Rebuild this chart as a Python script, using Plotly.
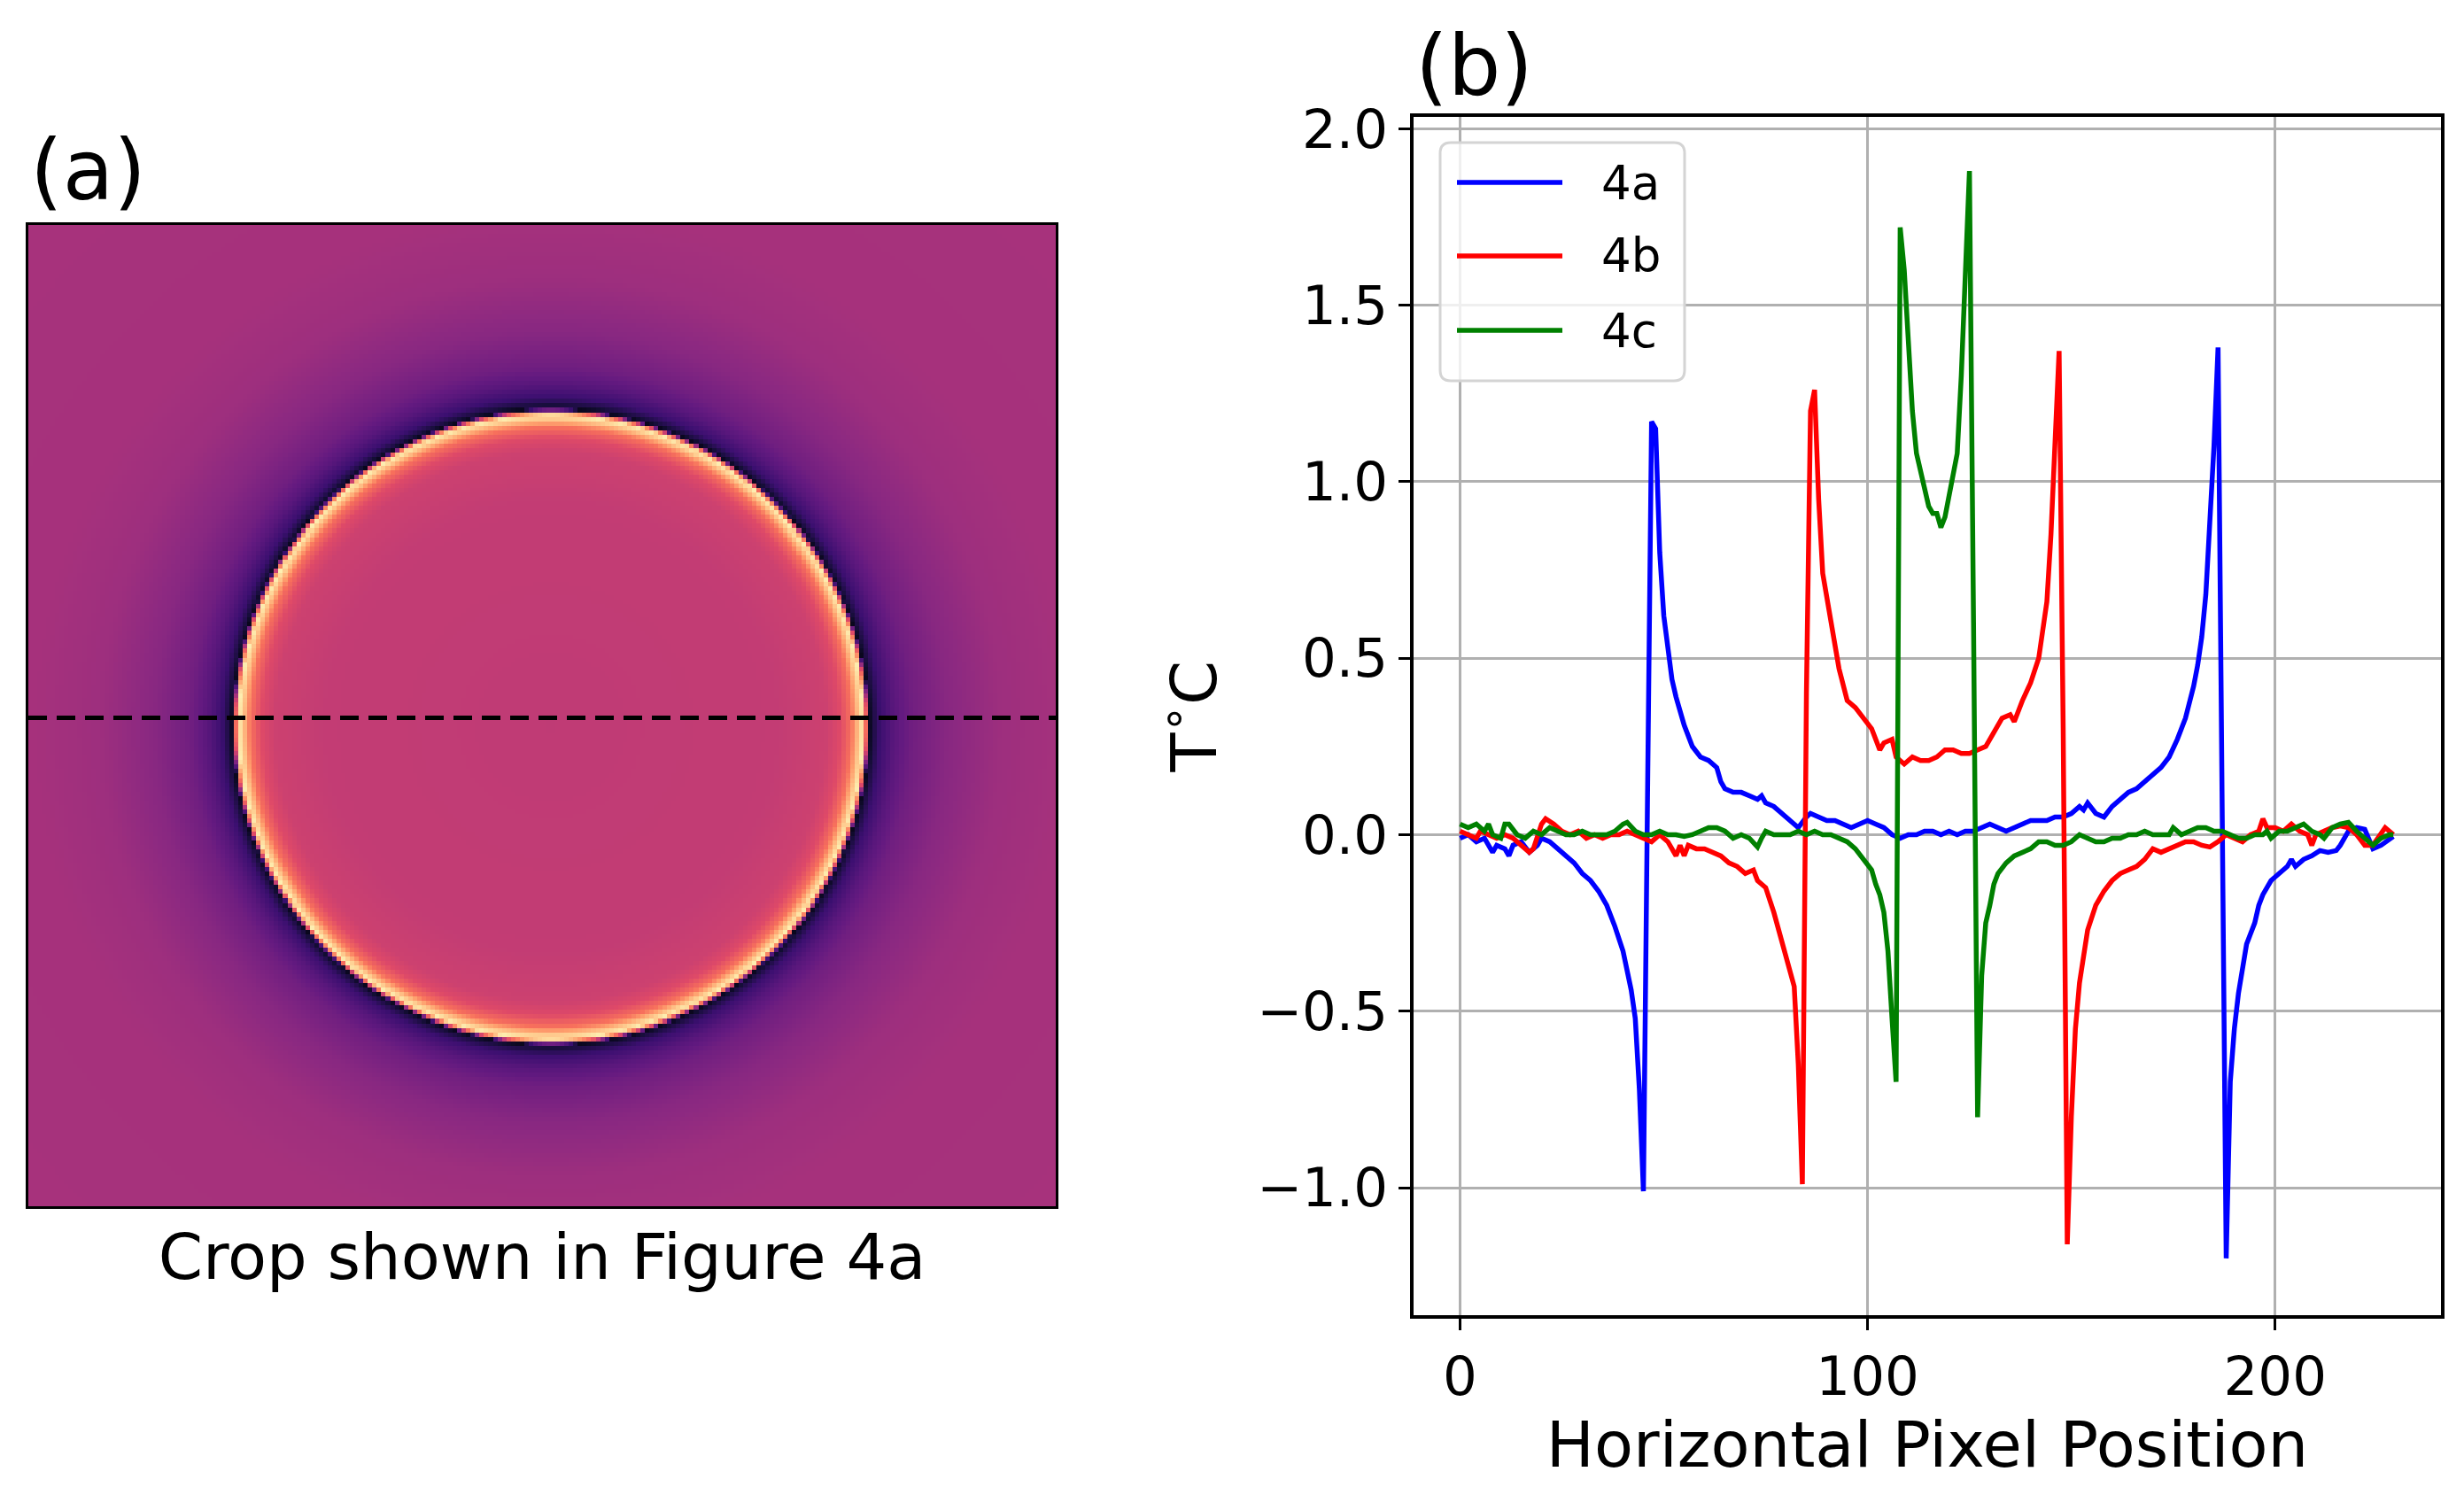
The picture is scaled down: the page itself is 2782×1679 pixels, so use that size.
import numpy as np
import plotly.graph_objects as go

W, H = 2782, 1679
FONT = "DejaVu Sans"

# ---------------- Panel (b) data: temperature profiles along the dashed row ----------------
series_names = ["4a", "4b", "4c"]
series_colors = ["#0000ff", "#ff0000", "#008000"]

x_4a = [
    0, 2, 4, 6, 8, 9, 11, 12, 13, 15,
    17, 19, 20, 22, 24, 26, 28, 30, 32, 34,
    36, 38, 40, 42, 43, 44, 45, 46, 47, 48,
    49, 50, 51, 52, 53, 55, 57, 59, 61, 63,
    64, 65, 67, 69, 71, 73, 74, 75, 77, 79,
    81, 83, 85, 86, 88, 90, 92, 94, 96, 98,
    100, 102, 104, 106, 108, 110, 112, 114, 116, 118,
    120, 122, 124, 126, 128, 130, 132, 134, 136, 138,
    140, 142, 144, 146, 148, 150, 152, 153, 154, 156,
    158, 160, 162, 164, 166, 168, 170, 172, 174, 176,
    178, 180, 181, 182, 183, 184, 185, 186, 187, 188,
    189, 190, 191, 192, 193, 194, 195, 196, 197, 199,
    201, 203, 204, 205, 207, 209, 211, 213, 215, 216,
    218, 220, 222, 224, 226, 228, 229]
t_4a = [
    -0.01, 0.00, -0.02, -0.01, -0.05, -0.03, -0.04, -0.06, -0.03, -0.02,
    -0.05, -0.03, -0.01, -0.02, -0.04, -0.06, -0.08, -0.11, -0.13, -0.16,
    -0.20, -0.26, -0.33, -0.44, -0.52, -0.72, -1.01, 0.10, 1.17, 1.15,
    0.80, 0.62, 0.52, 0.44, 0.39, 0.31, 0.25, 0.22, 0.21, 0.19,
    0.15, 0.13, 0.12, 0.12, 0.11, 0.10, 0.11, 0.09, 0.08, 0.06,
    0.04, 0.02, 0.05, 0.06, 0.05, 0.04, 0.04, 0.03, 0.02, 0.03,
    0.04, 0.03, 0.02, 0.00, -0.01, 0.00, 0.00, 0.01, 0.01, 0.00,
    0.01, 0.00, 0.01, 0.01, 0.02, 0.03, 0.02, 0.01, 0.02, 0.03,
    0.04, 0.04, 0.04, 0.05, 0.05, 0.06, 0.08, 0.07, 0.09, 0.06,
    0.05, 0.08, 0.10, 0.12, 0.13, 0.15, 0.17, 0.19, 0.22, 0.27,
    0.33, 0.42, 0.48, 0.56, 0.68, 0.88, 1.10, 1.38, 0.10, -1.20,
    -0.70, -0.55, -0.45, -0.37, -0.31, -0.28, -0.25, -0.20, -0.17, -0.13,
    -0.11, -0.09, -0.07, -0.09, -0.07, -0.06, -0.045, -0.05, -0.045, -0.03,
    0.01, 0.02, 0.015, -0.04, -0.03, -0.015, -0.005]

x_4b = [
    0, 2, 4, 5, 7, 9, 11, 13, 15, 17,
    18, 20, 21, 23, 25, 27, 29, 31, 33, 35,
    37, 39, 41, 43, 45, 47, 49, 51, 52, 53,
    54, 55, 56, 58, 60, 62, 64, 66, 68, 70,
    72, 73, 75, 77, 79, 81, 82, 83, 84, 85,
    86, 87, 88, 89, 91, 93, 95, 97, 99, 101,
    102, 103, 104, 106, 107, 109, 111, 113, 115, 117,
    119, 121, 123, 125, 127, 129, 131, 133, 135, 136,
    138, 140, 142, 144, 145, 146, 147, 148, 149, 150,
    151, 152, 154, 156, 158, 160, 162, 164, 166, 168,
    170, 172, 174, 176, 178, 180, 182, 184, 186, 188,
    190, 192, 194, 196, 197, 198, 200, 202, 204, 206,
    208, 209, 210, 212, 214, 216, 218, 220, 222, 224,
    226, 227, 229]
t_4b = [
    0.01, 0.00, -0.01, 0.01, 0.00, -0.01, 0.00, -0.01, -0.03, -0.05,
    -0.04, 0.03, 0.045, 0.03, 0.01, 0.00, 0.01, -0.01, 0.00, -0.01,
    0.00, 0.00, 0.01, 0.00, -0.01, -0.02, 0.00, -0.02, -0.04, -0.06,
    -0.03, -0.06, -0.03, -0.04, -0.04, -0.05, -0.06, -0.08, -0.09, -0.11,
    -0.10, -0.13, -0.15, -0.22, -0.30, -0.39, -0.43, -0.65, -0.99, 0.40,
    1.20, 1.26, 0.95, 0.74, 0.60, 0.47, 0.38, 0.36, 0.33, 0.30,
    0.27, 0.24, 0.26, 0.27, 0.22, 0.20, 0.22, 0.21, 0.21, 0.22,
    0.24, 0.24, 0.23, 0.23, 0.24, 0.25, 0.29, 0.33, 0.34, 0.32,
    0.38, 0.43, 0.50, 0.66, 0.85, 1.15, 1.37, 0.30, -1.16, -0.80,
    -0.55, -0.42, -0.27, -0.20, -0.16, -0.13, -0.11, -0.10, -0.09, -0.07,
    -0.04, -0.05, -0.04, -0.03, -0.02, -0.02, -0.03, -0.035, -0.02, 0.00,
    -0.01, -0.02, 0.00, 0.01, 0.045, 0.02, 0.02, 0.01, 0.03, 0.01,
    0.00, -0.03, 0.00, 0.01, 0.02, 0.025, 0.02, 0.00, -0.03, -0.03,
    0.00, 0.02, 0.00]

x_4c = [
    0, 2, 4, 6, 7, 8, 10, 11, 12, 14,
    16, 18, 20, 22, 24, 26, 28, 30, 32, 34,
    36, 38, 40, 41, 43, 45, 47, 49, 51, 53,
    55, 57, 59, 61, 63, 65, 67, 69, 71, 73,
    74, 75, 77, 79, 81, 83, 85, 87, 89, 91,
    93, 95, 97, 99, 101, 102, 103, 104, 105, 106,
    107, 108, 109, 110, 111, 112, 113, 114, 115, 116,
    117, 118, 119, 120, 121, 122, 123, 124, 125, 126,
    127, 128, 129, 130, 131, 132, 134, 136, 138, 140,
    142, 144, 146, 148, 150, 152, 154, 156, 158, 160,
    162, 164, 166, 168, 170, 172, 174, 175, 177, 179,
    181, 183, 185, 187, 189, 191, 193, 195, 197, 198,
    199, 201, 203, 205, 207, 209, 211, 212, 214, 216,
    218, 220, 222, 224, 226, 228, 229]
t_4c = [
    0.03, 0.02, 0.03, 0.01, 0.03, 0.00, -0.01, 0.03, 0.03, 0.00,
    -0.01, 0.01, 0.00, 0.02, 0.01, 0.00, 0.00, 0.01, 0.00, 0.00,
    0.00, 0.01, 0.03, 0.035, 0.01, 0.00, 0.00, 0.01, 0.00, 0.00,
    -0.005, 0.00, 0.01, 0.02, 0.02, 0.01, -0.01, 0.00, -0.01, -0.035,
    -0.01, 0.01, 0.00, 0.00, 0.00, 0.01, 0.00, 0.01, 0.00, 0.00,
    -0.01, -0.02, -0.04, -0.07, -0.10, -0.14, -0.17, -0.22, -0.33, -0.52,
    -0.70, 1.72, 1.60, 1.40, 1.20, 1.08, 1.03, 0.98, 0.93, 0.91,
    0.91, 0.87, 0.90, 0.96, 1.03, 1.08, 1.30, 1.60, 1.88, 0.60,
    -0.80, -0.40, -0.25, -0.20, -0.14, -0.11, -0.08, -0.06, -0.05, -0.04,
    -0.02, -0.02, -0.03, -0.03, -0.02, 0.00, -0.01, -0.02, -0.02, -0.01,
    -0.01, 0.00, 0.00, 0.01, 0.00, 0.00, 0.00, 0.02, 0.00, 0.01,
    0.02, 0.02, 0.01, 0.01, 0.00, -0.01, -0.01, 0.00, 0.00, 0.01,
    -0.01, 0.01, 0.01, 0.02, 0.03, 0.01, 0.00, -0.01, 0.02, 0.03,
    0.035, 0.01, -0.01, -0.03, -0.01, 0.00, 0.00]

x_ticks = [0, 100, 200]
y_ticks = [-1.0, -0.5, 0.0, 0.5, 1.0, 1.5, 2.0]

# ---------------- Panel (a) data: the thermal crop (radial description of the droplet) ----------------
img_width = 230
img_height = 220
circle_cx = 116.5
circle_cy = 112.0
circle_r = 70.7
edge_offsets = [-80, -20, -9, -6, -3.5, -2, -0.8, 0.0, 0.6, 1.4, 3, 6, 10, 18, 30, 45, 250]
edge_levels = [0.52, 0.53, 0.555, 0.60, 0.70, 0.86, 0.97, 0.60, 0.05, 0.12, 0.20, 0.27, 0.33, 0.39, 0.44, 0.46, 0.47]
dashed_row = 110

magma = [
    [0.0, "#000004"], [0.1, "#140e36"], [0.2, "#3b0f70"], [0.3, "#641a80"],
    [0.4, "#8c2981"], [0.5, "#b73779"], [0.6, "#de4968"], [0.7, "#f7705c"],
    [0.8, "#fe9f6d"], [0.9, "#fecf92"], [1.0, "#fcfdbf"]]

yy, xx = np.mgrid[0:img_height, 0:img_width]
dist = np.hypot(xx - circle_cx, yy - circle_cy) - circle_r
z_img = np.interp(dist, edge_offsets, edge_levels)


def px(x):
    return x / W


def py(y):
    return 1 - y / H


fig = go.Figure()

fig.add_trace(go.Heatmap(
    z=z_img, x=np.arange(img_width), y=np.arange(img_height),
    colorscale=magma, zmin=0, zmax=1, showscale=False,
    xaxis="x2", yaxis="y2", hoverinfo="skip"))
fig.add_trace(go.Scatter(
    x=[-0.5, img_width - 0.5], y=[dashed_row, dashed_row], mode="lines",
    line=dict(color="black", width=5, dash="21px,11px"),
    xaxis="x2", yaxis="y2", showlegend=False, hoverinfo="skip"))

for name, color, xs, ts in zip(series_names, series_colors,
                               [x_4a, x_4b, x_4c], [t_4a, t_4b, t_4c]):
    fig.add_trace(go.Scatter(x=xs, y=ts, mode="lines", name=name,
                             line=dict(color=color, width=5.5),
                             showlegend=False))

axis_common = dict(showline=True, linecolor="black", mirror=True, zeroline=False,
                   automargin=False)

fig.update_layout(
    width=W, height=H,
    margin=dict(l=0, r=0, t=0, b=0, pad=0),
    paper_bgcolor="white", plot_bgcolor="white",
    font=dict(family=FONT, color="black"),
    showlegend=False,
    xaxis=dict(
        domain=[px(1596), px(2756)], range=[-11.4, 240.7],
        tickvals=x_ticks, ticks="outside", ticklen=13, tickwidth=3, tickcolor="black",
        showgrid=True, gridcolor="#b0b0b0", gridwidth=2.8, linewidth=3.5,
        tickfont=dict(size=61, family=FONT),
        title=dict(text="Horizontal Pixel Position", font=dict(size=72, family=FONT), standoff=10),
        **axis_common),
    yaxis=dict(
        domain=[py(1485), py(132)], range=[-1.361, 2.033],
        tickvals=y_ticks, tickformat=".1f", ticks="outside", ticklen=13, tickwidth=3,
        tickcolor="black", showgrid=True, gridcolor="#b0b0b0", gridwidth=2.8, linewidth=3.5,
        tickfont=dict(size=61, family=FONT),
        title=dict(text="T<sup>∘</sup>C", font=dict(size=72, family=FONT), standoff=23),
        **axis_common),
    xaxis2=dict(
        domain=[px(32), px(1192)], range=[-0.5, img_width - 0.5], anchor="y2",
        showticklabels=False, ticks="", showgrid=False, linewidth=3,
        title=dict(text="Crop shown in Figure 4a", font=dict(size=72, family=FONT), standoff=30),
        **axis_common),
    yaxis2=dict(
        domain=[py(1362), py(254)], range=[img_height - 0.5, -0.5], anchor="x2",
        showticklabels=False, ticks="", showgrid=False, linewidth=3,
        **axis_common),
)

annotations = [
    dict(text="(a)", x=px(32), y=py(192), xref="paper", yref="paper",
         xanchor="left", yanchor="middle", showarrow=False,
         font=dict(size=94, family=FONT, color="black")),
    dict(text="(b)", x=px(1596), y=py(75), xref="paper", yref="paper",
         xanchor="left", yanchor="middle", showarrow=False,
         font=dict(size=94, family=FONT, color="black")),
]

# legend (matplotlib-style frame, long line samples)
leg_x0, leg_y0, leg_x1, leg_y1, leg_r = 1626, 161, 1902, 430, 12


def rounded_rect_path(x0, y0, x1, y1, r):
    pts = [
        ("M", [(x0 + r, y0)]), ("L", [(x1 - r, y0)]), ("Q", [(x1, y0), (x1, y0 + r)]),
        ("L", [(x1, y1 - r)]), ("Q", [(x1, y1), (x1 - r, y1)]),
        ("L", [(x0 + r, y1)]), ("Q", [(x0, y1), (x0, y1 - r)]),
        ("L", [(x0, y0 + r)]), ("Q", [(x0, y0), (x0 + r, y0)]),
    ]
    s = ""
    for cmd, ps in pts:
        s += cmd + " ".join(f"{px(a):.6f},{py(b):.6f}" for a, b in ps) + " "
    return s + "Z"


shapes = [dict(type="path", xref="paper", yref="paper",
               path=rounded_rect_path(leg_x0, leg_y0, leg_x1, leg_y1, leg_r),
               fillcolor="rgba(255,255,255,0.8)", line=dict(color="#d4d4d4", width=3))]
leg_rows = [206, 289, 373]
for name, color, yrow in zip(series_names, series_colors, leg_rows):
    shapes.append(dict(type="line", xref="paper", yref="paper",
                       x0=px(1645), x1=px(1764), y0=py(yrow), y1=py(yrow),
                       line=dict(color=color, width=5.5)))
    annotations.append(dict(text=name, x=px(1806), y=py(yrow), xref="paper", yref="paper",
                            xanchor="left", yanchor="middle", showarrow=False,
                            font=dict(size=53, family=FONT, color="black")))

fig.update_layout(shapes=shapes, annotations=annotations)

fig.write_html("out.html",
               config={"displayModeBar": False},
               post_script="document.body.style.margin='0px';document.body.style.overflow='hidden';")
